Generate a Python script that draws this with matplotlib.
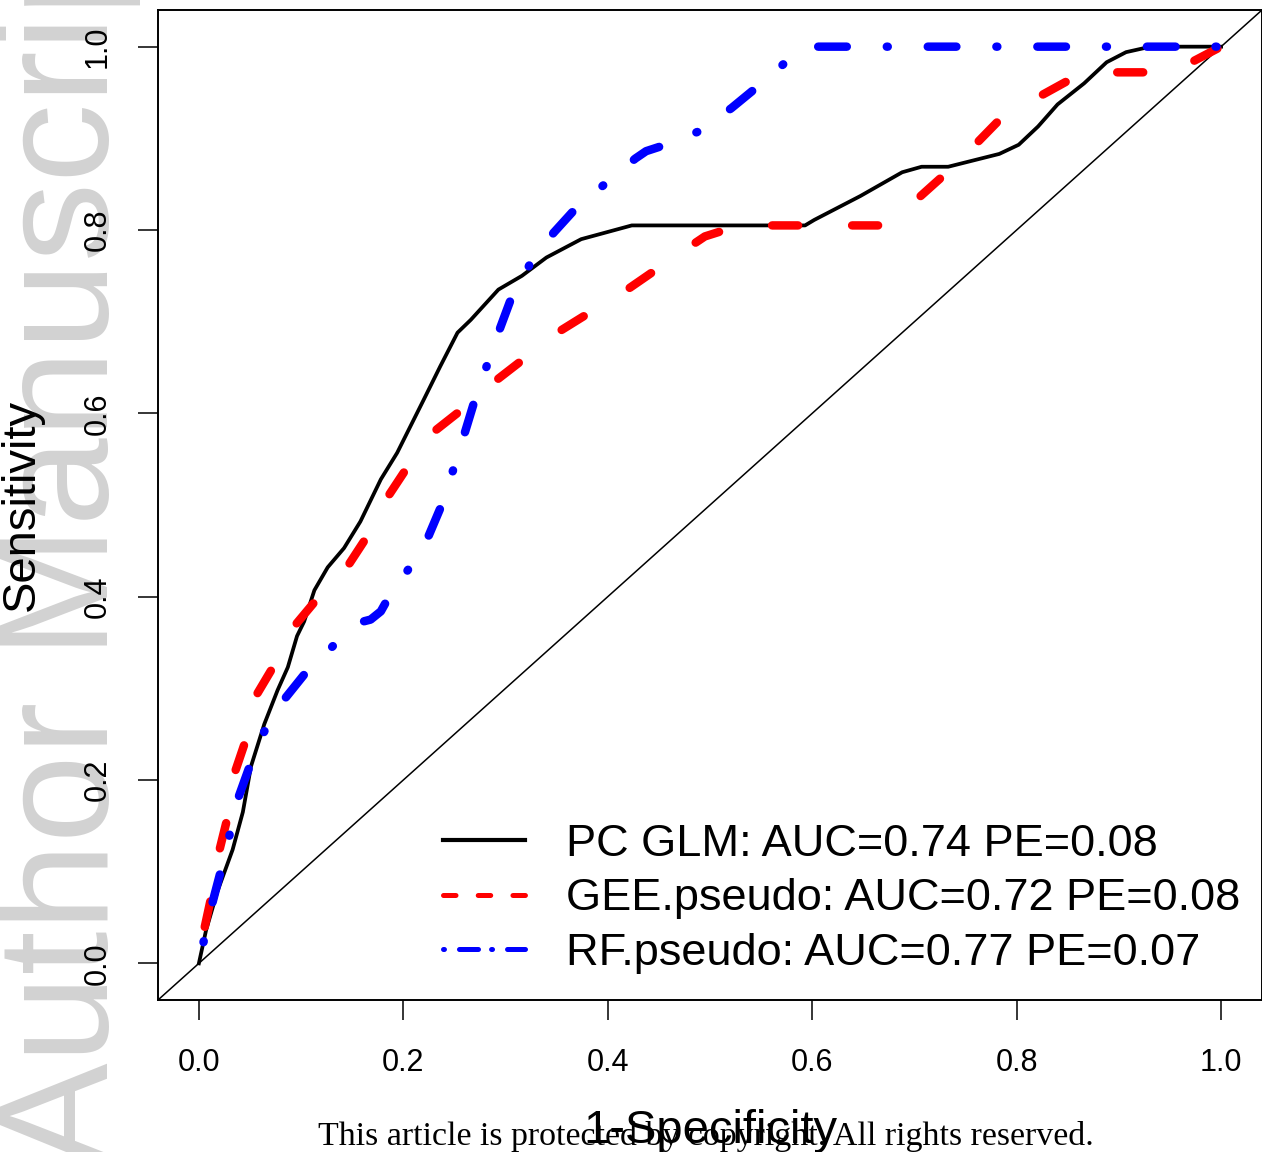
import matplotlib
matplotlib.use("Agg")
import matplotlib.pyplot as plt
from matplotlib.lines import Line2D

plt.rcParams['font.family'] = ['Liberation Sans', 'DejaVu Sans']
plt.rcParams['lines.scale_dashes'] = False

# ---------------- data ----------------
glm_fpr = [0, 0.007, 0.018, 0.033, 0.043, 0.051, 0.064, 0.077, 0.087, 0.096, 0.103, 0.113,
           0.126, 0.142, 0.158, 0.178, 0.194, 0.207, 0.220, 0.236, 0.253, 0.266, 0.293, 0.316,
           0.340, 0.374, 0.4235, 0.593, 0.602, 0.647, 0.688, 0.707, 0.733, 0.783, 0.802, 0.821,
           0.840, 0.866, 0.888, 0.907, 0.931, 1.0]
glm_tpr = [0, 0.036, 0.078, 0.124, 0.165, 0.215, 0.261, 0.298, 0.323, 0.357, 0.373, 0.407,
           0.432, 0.453, 0.482, 0.528, 0.557, 0.586, 0.615, 0.651, 0.688, 0.702, 0.735, 0.750,
           0.770, 0.790, 0.805, 0.805, 0.811, 0.837, 0.863, 0.869, 0.869, 0.883, 0.893, 0.913,
           0.937, 0.960, 0.983, 0.994, 1.0, 1.0]

gee_fpr = [0, 0.005, 0.012, 0.020, 0.028, 0.036, 0.046, 0.057, 0.073, 0.095, 0.116, 0.146,
           0.163, 0.186, 0.202, 0.231, 0.256, 0.292, 0.314, 0.352, 0.378, 0.419, 0.445, 0.483,
           0.495, 0.512, 0.530, 0.675, 0.705, 0.729, 0.762, 0.783, 0.826, 0.852, 0.865, 0.952,
           0.976, 1.0]
gee_tpr = [0, 0.036, 0.072, 0.123, 0.159, 0.211, 0.244, 0.294, 0.324, 0.370, 0.398, 0.434,
           0.463, 0.511, 0.538, 0.581, 0.603, 0.637, 0.656, 0.689, 0.707, 0.735, 0.755, 0.784,
           0.793, 0.799, 0.805, 0.805, 0.836, 0.860, 0.896, 0.920, 0.948, 0.964, 0.972, 0.972,
           0.986, 1.0]

rf_fpr = [0, 0.0046, 0.013, 0.021, 0.030, 0.039, 0.049, 0.064, 0.085, 0.103, 0.131, 0.161,
          0.168, 0.178, 0.183, 0.205, 0.225, 0.236, 0.249, 0.261, 0.270, 0.282, 0.295, 0.306,
          0.324, 0.347, 0.369, 0.397, 0.427, 0.4375, 0.454, 0.490, 0.521, 0.545, 0.575, 0.600, 1.0]
rf_tpr = [0, 0.0235, 0.065, 0.099, 0.140, 0.182, 0.213, 0.253, 0.290, 0.315, 0.346, 0.373,
          0.375, 0.384, 0.394, 0.430, 0.467, 0.496, 0.539, 0.582, 0.615, 0.653, 0.694, 0.727,
          0.763, 0.797, 0.824, 0.850, 0.878, 0.886, 0.892, 0.908, 0.933, 0.955, 0.984, 1.0, 1.0]

labels = ["PC GLM: AUC=0.74 PE=0.08",
          "GEE.pseudo: AUC=0.72 PE=0.08",
          "RF.pseudo: AUC=0.77 PE=0.07"]
tick_vals = [0.0, 0.2, 0.4, 0.6, 0.8, 1.0]
tick_labels = ["0.0", "0.2", "0.4", "0.6", "0.8", "1.0"]

# ---------------- figure ----------------
W, H = 1262, 1152
fig = plt.figure(figsize=(W / 100, H / 100), dpi=100)
ax = fig.add_axes([158 / W, 1 - 1000 / H, (1262 - 158) / W, (1000 - 10) / H])
ax.set_facecolor('none')

ax.set_xlim(-0.04, 1.04)
ax.set_ylim(-0.04, 1.04)

# diagonal reference line
ax.plot([-0.04, 1.04], [-0.04, 1.04], color='black', lw=1.1, zorder=1)

ax.plot(glm_fpr, glm_tpr, color='black', lw=2.7, solid_joinstyle='round', zorder=2)
ax.plot(gee_fpr, gee_tpr, color='#ff0000', lw=6.1,
        linestyle=(31, (18.7, 38.9)), dash_capstyle='round', dash_joinstyle='round', zorder=3)
ax.plot(rf_fpr, rf_tpr, color='#0000ff', lw=6.1,
        linestyle=(33.8, (20.6, 28.8, 0.7, 28.8)), dash_capstyle='round',
        dash_joinstyle='round', zorder=4)

# axes styling
for s in ax.spines.values():
    s.set_linewidth(1.4)
ax.set_xticks(tick_vals)
ax.set_xticklabels(tick_labels)
ax.set_yticks(tick_vals)
ax.set_yticklabels(tick_labels, rotation=90, va='center')
ax.tick_params(axis='both', direction='out', length=14.4, width=1.1, labelsize=22)
ax.tick_params(axis='x', pad=20)
ax.tick_params(axis='y', pad=18)

ax.set_xlabel('1-Specificity', fontsize=34, va='baseline')
ax.xaxis.set_label_coords(0.5, (1000 - 1143) / 990)
ax.set_ylabel('Sensitivity', fontsize=34, va='baseline', ha='center', rotation_mode='anchor')
ax.yaxis.set_label_coords((34 - 158) / 1104, 0.5)

# legend
handles = [
    Line2D([], [], color='black', lw=3.0),
    Line2D([], [], color='#ff0000', lw=3.6, linestyle=(0, (9.0, 16.0)), dash_capstyle='round'),
    Line2D([], [], color='#0000ff', lw=3.6, linestyle=(0, (0.7, 10.8, 13.7, 9.4)),
           dash_capstyle='round'),
]
leg = ax.legend(handles, labels, loc='center left',
                bbox_to_anchor=(443 / W, 1 - 899 / H), bbox_transform=fig.transFigure,
                frameon=False, fontsize=32.5, handlelength=1.82, handletextpad=0.9,
                labelspacing=0.30, borderpad=0, borderaxespad=0)

# watermark
fig.text(108 / W, 1 - 1168 / H, 'Author Manuscript', rotation=90, rotation_mode='anchor',
         ha='left', va='baseline', fontsize=114, color='#d2d2d2', zorder=-5)

# footer
fig.text(706 / W, 1 - 1145 / H, 'This article is protected by copyright. All rights reserved.',
         ha='center', va='baseline', fontsize=24.4, family=['Liberation Serif', 'DejaVu Serif'],
         color='black')

fig.savefig('out.png', dpi=100)
